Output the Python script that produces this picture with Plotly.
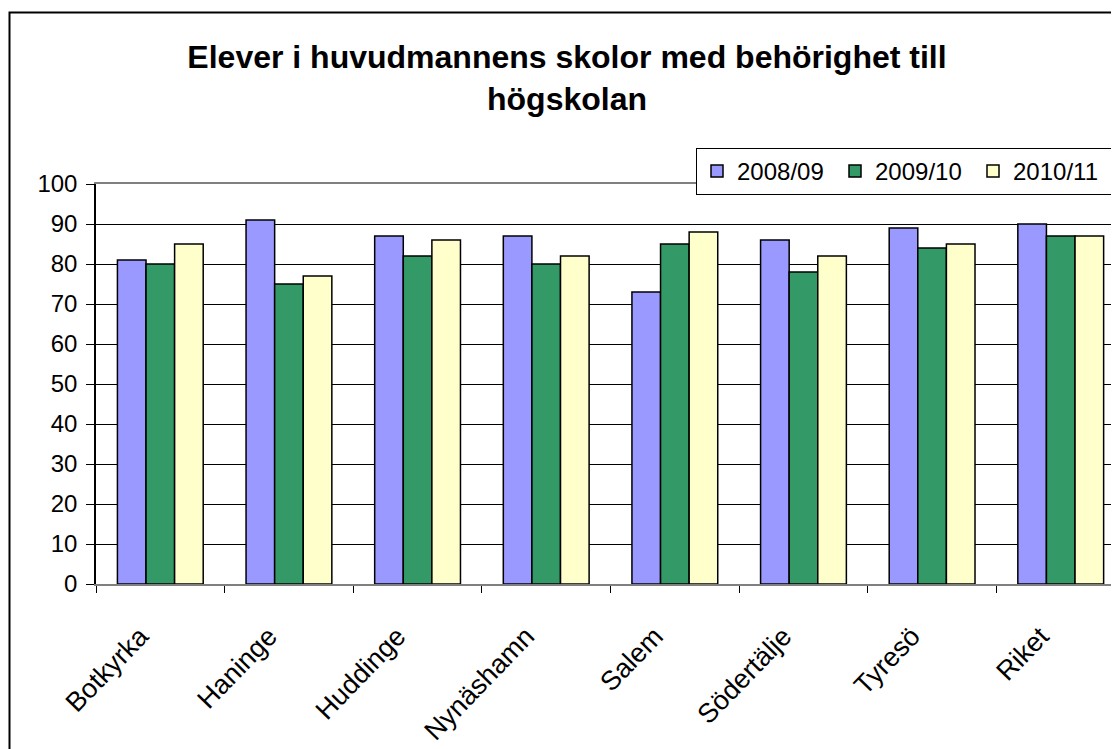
import plotly.graph_objects as go

# Data
kommuner = ["Botkyrka", "Haninge", "Huddinge", "Nynäshamn", "Salem", "Södertälje", "Tyresö", "Riket"]
ar_2008_09 = [81, 91, 87, 87, 73, 86, 89, 90]
ar_2009_10 = [80, 75, 82, 80, 85, 78, 84, 87]
ar_2010_11 = [85, 77, 86, 82, 88, 82, 85, 87]
y_ticks = [0, 10, 20, 30, 40, 50, 60, 70, 80, 90, 100]

BLUE = "#9999FF"
GREEN = "#339966"
YELLOW = "#FFFFCC"
FONT = "Liberation Sans, Arial, sans-serif"

# page body has an 8px margin, so the figure is 8px smaller than the window
W, H = 1111, 741
L, T, PH = 88, 176, 400
PW = W - L

fig = go.Figure()
for name, vals, col in [
    ("2008/09", ar_2008_09, BLUE),
    ("2009/10", ar_2009_10, GREEN),
    ("2010/11", ar_2010_11, YELLOW),
]:
    fig.add_trace(go.Bar(
        x=kommuner, y=vals, name=name,
        marker=dict(color=col, line=dict(color="black", width=1.5)),
    ))

fig.update_layout(
    width=W, height=H,
    margin=dict(l=L, r=0, t=T, b=H - T - PH, pad=0),
    paper_bgcolor="white", plot_bgcolor="white",
    barmode="group", bargap=0.333, bargroupgap=0,
    font=dict(family=FONT, color="black", size=24),
    title=dict(
        text="<b>Elever i huvudmannens skolor med behörighet till<br>högskolan</b>",
        x=559 / W, xanchor="center", y=1 - 60 / H, yanchor="middle",
        font=dict(family=FONT, size=32, color="black"),
    ),
    legend=dict(
        orientation="h", x=(688 - L) / PW, xanchor="left",
        y=(T + PH - 140) / PH, yanchor="top",
        bgcolor="white", bordercolor="black", borderwidth=1,
        font=dict(size=24), entrywidth=93, entrywidthmode="pixels",
    ),
    showlegend=True,
)

fig.update_xaxes(
    range=[-0.5, 7.453], showgrid=False,
    showline=True, linecolor="#808080", linewidth=1.5, mirror=True,
    ticks="outside", tickson="boundaries", ticklen=7, tickcolor="black",
    tickangle=-46, ticklabelstandoff=24, ticklabelshift=-20,
    tickfont=dict(size=27),
)
fig.update_yaxes(
    range=[0, 100], tickvals=y_ticks,
    showgrid=True, gridcolor="black", gridwidth=1,
    showline=True, linecolor="black", linewidth=1.5,
    ticks="outside", ticklen=8, tickcolor="black", ticklabelstandoff=4,
    tickfont=dict(size=24), zeroline=False,
)

# outer chart frame (runs off the right and bottom edges like the reference)
fig.add_shape(
    type="rect", xref="paper", yref="paper",
    x0=(1.5 - L) / PW, x1=1.05, y0=-0.6, y1=(T + PH - 4.5) / PH,
    line=dict(color="black", width=2), fillcolor="rgba(0,0,0,0)", layer="below",
)

fig.write_html("out.html")
